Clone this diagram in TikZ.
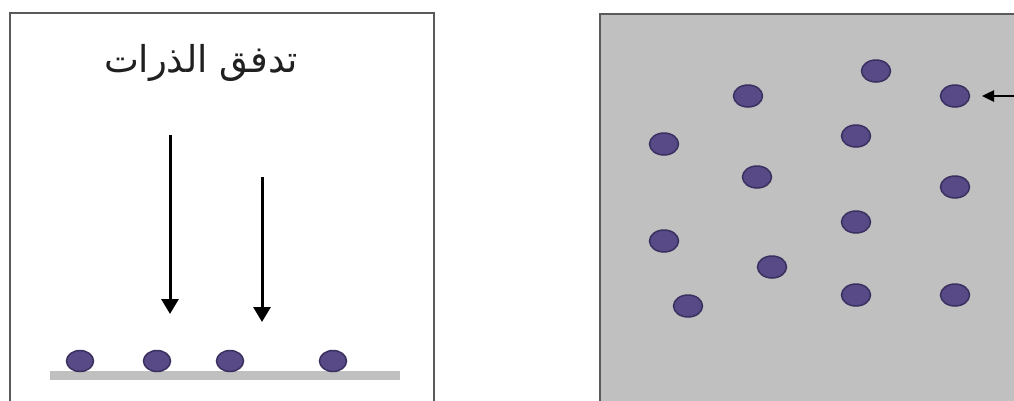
\documentclass[tikz,border=0pt]{standalone}
\usepackage{fontspec}
\newfontfamily\arabicfont[Script=Arabic]{DejaVu Sans}
\TeXXeTstate=1
\usetikzlibrary{arrows.meta,shapes.geometric}
\definecolor{dotfill}{HTML}{584A86}
\definecolor{dotedge}{HTML}{3A3060}
\definecolor{panelgray}{HTML}{C0C0C0}
\definecolor{frame}{HTML}{5A5A5A}
\definecolor{titlecol}{HTML}{202020}
\tikzset{
  atom/.style={ellipse, minimum width=27pt, minimum height=21pt, inner sep=0pt, fill=dotfill, draw=dotedge, line width=1.5pt},
  atomb/.style={atom, minimum width=29pt, minimum height=22pt},
  panel/.style={draw=frame, line width=2.5pt},
  flow/.style={line width=3pt, -{Triangle[width=17pt,length=15pt]}},
}
\begin{document}
\begin{tikzpicture}[x=1pt,y=-1pt]
\useasboundingbox (0,0) rectangle (1014,400);
\begin{scope}
\clip (0,0) rectangle (1014,400);
\draw[panel, fill=white] (10,13) rectangle (434,420);
\draw[panel, fill=panelgray] (600,14) rectangle (1030,420);
\end{scope}
\node[text=titlecol] (title) at (201,63) {\fontsize{37}{44}\arabicfont\beginR تدفق الذرات\endR};
\fill[panelgray] (50,371) rectangle (400,380);
\node[atom] (a1) at (80,361) {};
\node[atom] (a2) at (157,361) {};
\node[atom] (a3) at (230,361) {};
\node[atom] (a4) at (333,361) {};
\coordinate (s1) at (170,135);
\coordinate (e1) at (170,314);
\coordinate (s2) at (262,177);
\coordinate (e2) at (262,322);
\draw[flow] (s1) -- (e1);
\draw[flow] (s2) -- (e2);
\node[atomb] (b1) at (876,71) {};
\node[atomb] (b2) at (748,96) {};
\node[atomb] (b3) at (955,96) {};
\node[atomb] (b4) at (856,136) {};
\node[atomb] (b5) at (664,144) {};
\node[atomb] (b6) at (757,177) {};
\node[atomb] (b7) at (955,187) {};
\node[atomb] (b8) at (856,222) {};
\node[atomb] (b9) at (664,241) {};
\node[atomb] (b10) at (772,267) {};
\node[atomb] (b11) at (688,306) {};
\node[atomb] (b12) at (856,295) {};
\node[atomb] (b13) at (955,295) {};
\coordinate (r0) at (1016,96);
\coordinate (r1) at (982,96);
\draw[line width=2.5pt, -{Triangle[width=11pt,length=12pt]}] (r0) -- (r1);
\end{tikzpicture}
\end{document}
